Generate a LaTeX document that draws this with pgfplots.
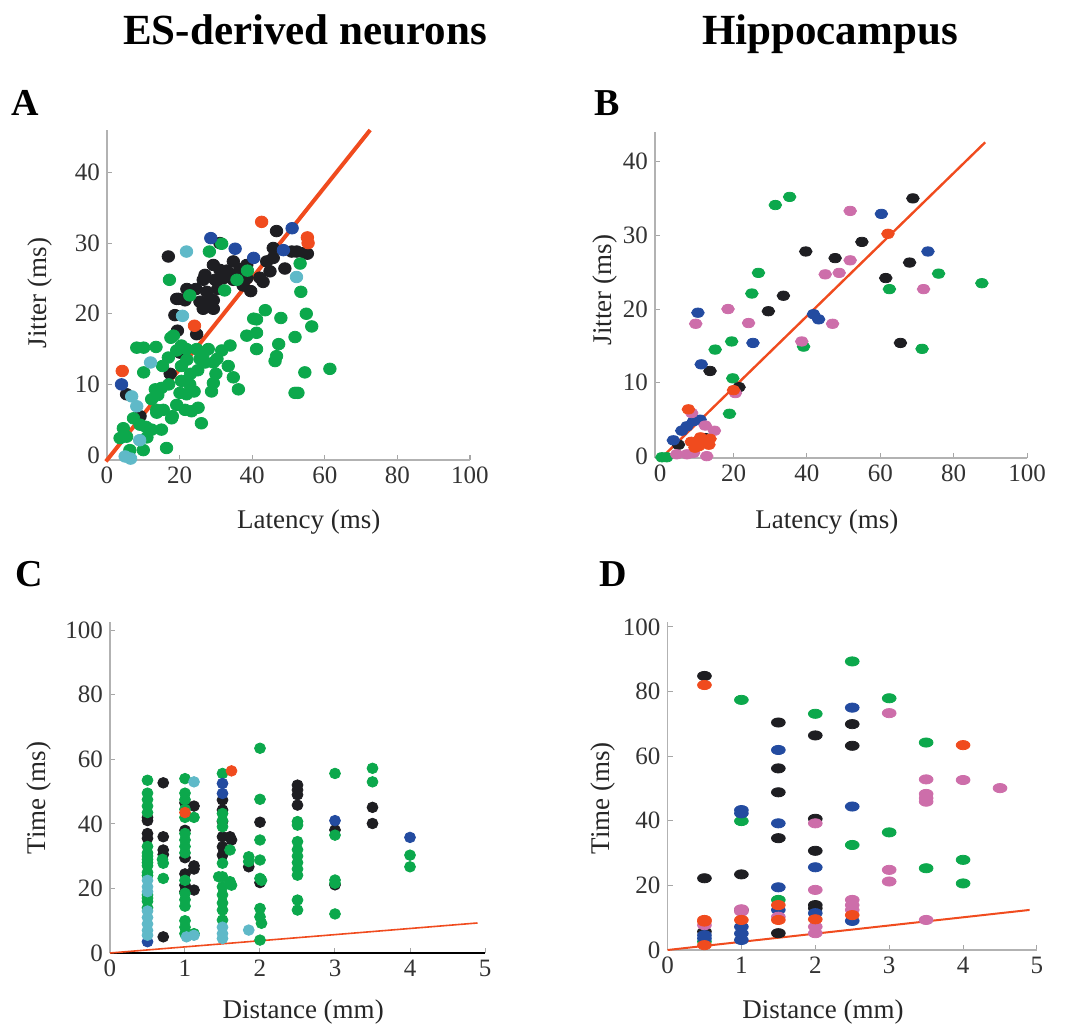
\documentclass[border=0pt]{standalone}
\usepackage{fontspec}
\setmainfont{Liberation Serif}
\usepackage{pgfplots}
\pgfplotsset{compat=1.18}
\definecolor{cblack}{RGB}{30,30,34}
\definecolor{cgreen}{RGB}{12,168,76}
\definecolor{cblue}{RGB}{35,75,160}
\definecolor{ccyan}{RGB}{95,185,200}
\definecolor{cred}{RGB}{240,75,30}
\definecolor{cpink}{RGB}{205,110,170}
\pgfplotsset{
  panel/.style={scale only axis, axis x line*=bottom, axis y line*=left,
    enlargelimits=false, clip=false, tick align=inside, major tick length=2.5pt,
    axis line style={draw=black!30, line width=0.6pt},
    tick style={draw=black!35, line width=0.5pt},
    /pgf/number format/assume math mode=true,
    tick label style={font=\rmfamily\fontsize{12.5}{14}\selectfont, text=black!80},
    label style={font=\rmfamily\fontsize{13.5}{15}\selectfont, text=black!85},
    anchor=south west},
  dotA/.style={only marks, mark=*, mark size=2.9pt, mark options={xscale=1.08}},
  dotB/.style={only marks, mark=*, mark size=2.35pt, mark options={xscale=1.35}},
  dotC/.style={only marks, mark=*, mark size=2.65pt, mark options={xscale=1.03}},
  dotD/.style={only marks, mark=*, mark size=2.3pt, mark options={xscale=1.5}},
}
\begin{document}
\begin{tikzpicture}
\useasboundingbox (0pt,0pt) rectangle (533.5pt,-514pt);
\node[anchor=base, font=\rmfamily\fontsize{21.5}{24}\selectfont\bfseries] at (152.5pt,-22pt) {ES-derived neurons};
\node[anchor=base, font=\rmfamily\fontsize{21.5}{24}\selectfont\bfseries] at (415pt,-22pt) {Hippocampus};
\node[font=\rmfamily\fontsize{19}{21}\selectfont\bfseries] at (12.5pt,-51.5pt) {A};
\node[font=\rmfamily\fontsize{19}{21}\selectfont\bfseries] at (303.5pt,-51.5pt) {B};
\node[font=\rmfamily\fontsize{19}{21}\selectfont\bfseries] at (14.5pt,-287pt) {C};
\node[font=\rmfamily\fontsize{19}{21}\selectfont\bfseries] at (306.5pt,-287pt) {D};

% ---------------- Panel A ----------------
\begin{axis}[panel, at={(53.5pt,-230pt)}, width=181.5pt, height=165pt,
  xmin=0, xmax=100, ymin=-0.7, ymax=46,
  xtick={0,20,40,60,80,100}, ytick={0,10,20,30,40},
  xlabel={Latency (ms)}, ylabel={Jitter (ms)},
  xlabel style={at={(axis description cs:0.556,-0.188)}, anchor=center},
  ylabel style={at={(axis description cs:-0.185,0.506)}, anchor=center}]
\addplot[dotA, cblack] coordinates {
(16.9,28.1) (31.1,30.0) (46.7,31.7) (19.7,22.1) (22.0,23.5) (21.5,21.9) (19.2,22.1)
(18.7,19.8) (19.4,17.6) (24.7,17.1) (17.4,11.5) (20.1,14.5) (26.5,24.8) (27.5,23.1)
(26.5,21.2) (29.3,20.7) (28.4,22.1) (25.6,21.7) (29.3,21.9) (29.8,24.8) (29.3,26.9)
(31.1,26.2) (33.0,26.1) (34.8,27.4) (35.3,25.5) (36.6,26.3) (34.8,24.8) (38.5,26.9)
(38.5,25.0) (39.6,23.2) (42.1,25.1) (44.0,27.4) (44.9,26.0) (45.8,29.3) (45.8,27.9)
(49.0,26.4) (50.9,28.8) (52.3,28.8) (54.5,28.6) (55.2,28.5) (5.4,8.6) (9.1,5.5)
(26.5,20.7) (30.5,23.5) (32.0,25.0) (24.5,23.5) (27.0,25.5) (37.5,24.0) (43.0,24.5)
};
\addplot[dotA, cgreen] coordinates {
(17.2,24.8) (22.8,22.6) (28.2,28.8) (31.6,29.9) (32.4,23.3) (35.8,24.8) (38.7,26.1)
(53.2,27.1) (53.4,23.1) (54.9,20.0) (56.4,18.2) (51.8,16.7) (43.6,20.5) (40.4,19.3)
(41.2,19.2) (41.2,17.3) (38.5,16.9) (47.9,19.4) (41.2,15.0) (47.3,15.7) (46.7,14.0)
(46.3,13.3) (54.5,11.7) (61.4,12.2) (51.8,8.8) (52.6,8.8)
(8.2,15.2) (10.1,15.2) (13.5,15.3) (17.6,16.6) (18.3,16.9) (16.9,13.8) (15.3,12.6)
(19.2,14.8) (20.5,15.5) (21.9,15.0) (24.7,15.0) (26.5,14.3) (27.9,15.0) (25.6,13.6)
(27.0,13.1) (29.3,13.1) (30.3,13.6) (31.6,14.8) (33.9,15.5) (33.4,12.6) (34.8,11.0)
(36.2,9.3) (29.3,10.2) (28.8,9.0) (20.5,12.6) (20.5,10.5) (22.8,10.0) (20.1,8.8)
(21.9,8.6) (19.2,7.1) (21.5,6.4) (23.3,6.2) (25.1,6.7) (26.0,4.5) (10.1,11.7)
(13.3,9.3) (12.3,7.9) (13.7,6.4) (15.5,6.4) (13.7,6.0) (10.7,4.0) (9.1,4.3)
(12.3,3.6) (15.0,3.6) (17.8,5.2) (4.5,3.8) (5.4,2.6) (3.6,2.4) (7.3,5.2)
(10.0,0.7) (16.4,1.0) (6.3,0.7) (14.0,8.5) (15.0,9.5) (23.0,11.5) (17.0,10.0)
(25.0,12.0) (18.0,5.5) (11.0,2.5) (22.0,13.5) (24.0,9.0) (30.0,11.5)
};
\addplot[dotA, cblue] coordinates {
(28.6,30.7) (35.3,29.2) (40.4,27.9) (51.0,32.1) (48.6,29.0) (4.0,10.0)
};
\addplot[dotA, ccyan] coordinates {
(21.9,28.8) (20.8,19.7) (12.0,13.1) (6.8,8.3) (8.2,6.9) (9.0,2.1) (5.0,-0.2)
(6.5,-0.5) (52.2,25.2)
};
\addplot[dotA, cred] coordinates {
(42.6,33.0) (55.2,30.8) (55.4,30.0) (24.1,18.3) (4.2,11.9)
};
\addplot[cred, line width=2pt] coordinates {(-0.3,-0.9) (72.5,46)};
\end{axis}

% ---------------- Panel B ----------------
\begin{axis}[panel, at={(327.5pt,-229pt)}, width=186pt, height=163pt,
  xmin=-1.4, xmax=100, ymin=-0.2, ymax=44,
  xtick={0,20,40,60,80,100}, ytick={0,10,20,30,40},
  xlabel={Latency (ms)}, ylabel={Jitter (ms)},
  xlabel style={at={(axis description cs:0.462,-0.196)}, anchor=center},
  ylabel style={at={(axis description cs:-0.134,0.515)}, anchor=center}]
\addplot[dotB, cgreen] coordinates {
(31.4,34.1) (35.3,35.2) (26.8,24.9) (25.0,22.1) (15.0,14.5) (19.5,15.6) (19.8,10.6)
(18.9,5.8) (39.1,14.9) (62.5,22.7) (75.9,24.8) (87.7,23.5) (71.4,14.6) (1.8,-0.1) (0.5,-0.1)
};
\addplot[dotB, cblack] coordinates {
(68.9,35.0) (55.0,29.1) (39.7,27.8) (47.7,26.9) (68.0,26.3) (61.5,24.2) (33.6,21.8)
(29.5,19.7) (13.6,11.6) (21.5,9.4) (65.5,15.4) (5.0,1.6) (12.3,2.5)
};
\addplot[dotB, cblue] coordinates {
(60.3,32.9) (73.0,27.8) (10.3,19.5) (25.3,15.4) (11.2,12.5) (41.8,19.3) (43.2,18.6)
(3.6,2.2) (5.9,3.5) (7.3,4.1) (9.1,4.8) (10.9,5.0)
};
\addplot[dotB, cpink] coordinates {
(51.8,33.3) (51.8,26.6) (45.0,24.7) (48.8,24.9) (71.8,22.7) (18.5,20.0) (9.7,18.0)
(24.1,18.1) (47.0,18.0) (38.6,15.6) (20.5,8.6) (8.6,5.9) (12.3,4.2) (14.8,3.5)
(7.3,0.3) (4.5,0.3) (12.7,0.05) (9.1,0.5)
};
\addplot[dotB, cred] coordinates {
(62.1,30.2) (7.7,6.4) (8.5,2.0) (10.5,1.4) (12.0,2.1) (13.3,1.6) (11.0,2.6)
(9.5,1.2) (13.6,2.4) (20.0,9.0)
};
\addplot[cred, line width=1.2pt] coordinates {(-0.5,-0.6) (88.6,42.6)};
\end{axis}

% ---------------- Panel C ----------------
\begin{axis}[panel, at={(55pt,-476.5pt)}, width=187.5pt, height=165.5pt,
  xmin=0, xmax=5, ymin=0, ymax=102.5,
  xtick={0,1,2,3,4,5}, ytick={0,20,40,60,80,100},
  x axis line style={draw=black, line width=0.8pt},
  xlabel={Distance (mm)}, ylabel={Time (ms)},
  xlabel style={at={(axis description cs:0.515,-0.178)}, anchor=center},
  ylabel style={at={(axis description cs:-0.189,0.468)}, anchor=center}]
\addplot[dotC, cblack] coordinates {
(0.5,42) (0.5,37) (0.5,35.5) (0.5,41)
(0.71,52.7) (0.71,36) (0.71,31.9) (0.71,30.5) (0.71,5)
(1.0,46.5) (1.0,38) (1.0,29.5) (1.0,24.5) (1.0,21) (1.0,19)
(1.12,45.5) (1.12,27) (1.12,26) (1.12,19.5)
(1.5,47.4) (1.5,44.3) (1.5,40.7) (1.5,36) (1.5,32.9) (1.5,30.3)
(1.6,36) (1.62,35) (1.85,26.7) (2.0,40.5) (2.0,21.8)
(2.5,52) (2.5,50.5) (2.5,49) (2.5,45.8)
(3.0,38.1) (3.0,21.1) (3.5,45.1) (3.5,40.1)
};
\addplot[dotC, cgreen] coordinates {
(0.5,53.5) (0.5,49.5) (0.5,47.5) (0.5,45.5) (0.5,43.5) (0.5,33) (0.5,31) (0.5,29)
(0.5,27) (0.5,25) (0.5,30) (0.5,28) (0.5,24) (0.5,18) (0.5,16) (0.5,14) (0.5,17)
(0.71,27.8) (0.71,23.1) (0.7,29)
(1.0,54) (1.0,49.5) (1.0,47.5) (1.0,44.5) (1.0,42) (1.0,37) (1.0,35) (1.0,33)
(1.0,31) (1.0,22.5) (1.0,18.5) (1.0,16.5) (1.0,14.5) (1.0,10) (1.0,8) (1.0,6)
(1.12,42) (1.12,6)
(1.5,55.6) (1.5,43.2) (1.5,41) (1.5,39.1) (1.5,27.8) (1.5,23.6) (1.5,20.5) (1.5,18)
(1.5,15.5) (1.5,13.3) (1.5,10.2) (1.45,23.6)
(1.6,31.9) (1.6,22.1) (1.62,21) (1.85,29.8) (1.85,28.3)
(2.0,63.4) (2.0,47.6) (2.0,35) (2.0,28.8) (2.0,23.1) (2.02,22.5) (2.0,13.8) (2.0,11.2)
(2.02,9.2) (2.0,4)
(2.5,40.7) (2.5,39.6) (2.5,34.5) (2.5,32) (2.5,30) (2.5,28) (2.5,26) (2.5,24.1)
(2.5,16.4) (2.5,13.3)
(3.0,55.6) (3.0,36.5) (3.0,22.6) (3.0,21.6) (3.0,12.1)
(3.5,57.2) (3.5,53) (4.0,30.3) (4.0,26.7)
};
\addplot[dotC, cblue] coordinates {
(0.5,3.5) (1.5,52.5) (1.5,49.4) (3.0,41) (4.0,35.8)
};
\addplot[dotC, ccyan] coordinates {
(0.5,22.5) (0.5,20.5) (0.5,19) (0.5,13) (0.5,11) (0.5,9) (0.5,7) (0.5,5.5)
(1.12,53) (1.12,5.5) (1.02,5) (1.5,8) (1.5,6) (1.5,4.5) (1.85,7.1)
};
\addplot[dotC, cred] coordinates {(1.0,43.5) (1.62,56.4)};
\addplot[cred, line width=0.8pt] coordinates {(0,0) (4.9,9.3)};
\end{axis}

% ---------------- Panel D ----------------
\begin{axis}[panel, at={(333.75pt,-475pt)}, width=184.75pt, height=164pt,
  xmin=0, xmax=5, ymin=0, ymax=101.5,
  xtick={0,1,2,3,4,5}, ytick={0,20,40,60,80,100},
  xlabel={Distance (mm)}, ylabel={Time (ms)},
  xlabel style={at={(axis description cs:0.421,-0.189)}, anchor=center},
  ylabel style={at={(axis description cs:-0.175,0.463)}, anchor=center}]
\addplot[dotD, cblack] coordinates {
(0.5,84.8) (0.5,22.2) (0.5,5.7)
(1.0,23.4) (1.0,12.4)
(1.5,70.4) (1.5,56.2) (1.5,48.8) (1.5,34.6) (1.5,5.2)
(2.0,66.4) (2.0,40.6) (2.0,30.7) (2.0,13.9) (2.0,12.9)
(2.5,69.9) (2.5,63.2)
};
\addplot[dotD, cgreen] coordinates {
(0.5,2.6) (1.0,77.4) (1.0,39.9) (1.5,15.5) (2.0,73.1) (2.5,89.3) (2.5,32.5)
(3.0,77.9) (3.0,36.4) (3.5,64.2) (3.5,25.3) (4.0,27.9) (4.0,20.6)
};
\addplot[dotD, cblue] coordinates {
(0.5,4.6) (0.5,3.6) (1.0,43.3) (1.0,42.3) (1.0,7.2) (1.0,5.1) (1.0,3.1)
(1.5,61.9) (1.5,39.2) (1.5,19.4) (1.5,12.4) (2.0,25.6) (2.0,11.4)
(2.5,75.0) (2.5,44.4) (2.5,9.0)
};
\addplot[dotD, cpink] coordinates {
(0.5,7.7) (1.0,12.6) (1.0,11.9) (1.5,10.3) (2.0,39.2) (2.0,18.6) (2.0,7.2) (2.0,5.2)
(2.5,15.5) (2.5,13.9) (2.5,12.4) (3.0,73.3) (3.0,24.8) (3.0,21.2)
(3.5,52.8) (3.5,48.3) (3.5,47.0) (3.5,45.9) (3.5,9.3) (4.0,52.6) (4.5,50.1)
};
\addplot[dotD, cred] coordinates {
(0.5,82.0) (0.5,9.3) (0.5,8.8) (0.5,1.5) (1.0,9.3) (1.5,13.9) (1.5,9.3)
(2.0,9.5) (2.5,10.8) (4.0,63.4)
};
\addplot[cred, line width=1pt] coordinates {(0,0) (4.9,12.4)};
\end{axis}
\end{tikzpicture}
\end{document}
